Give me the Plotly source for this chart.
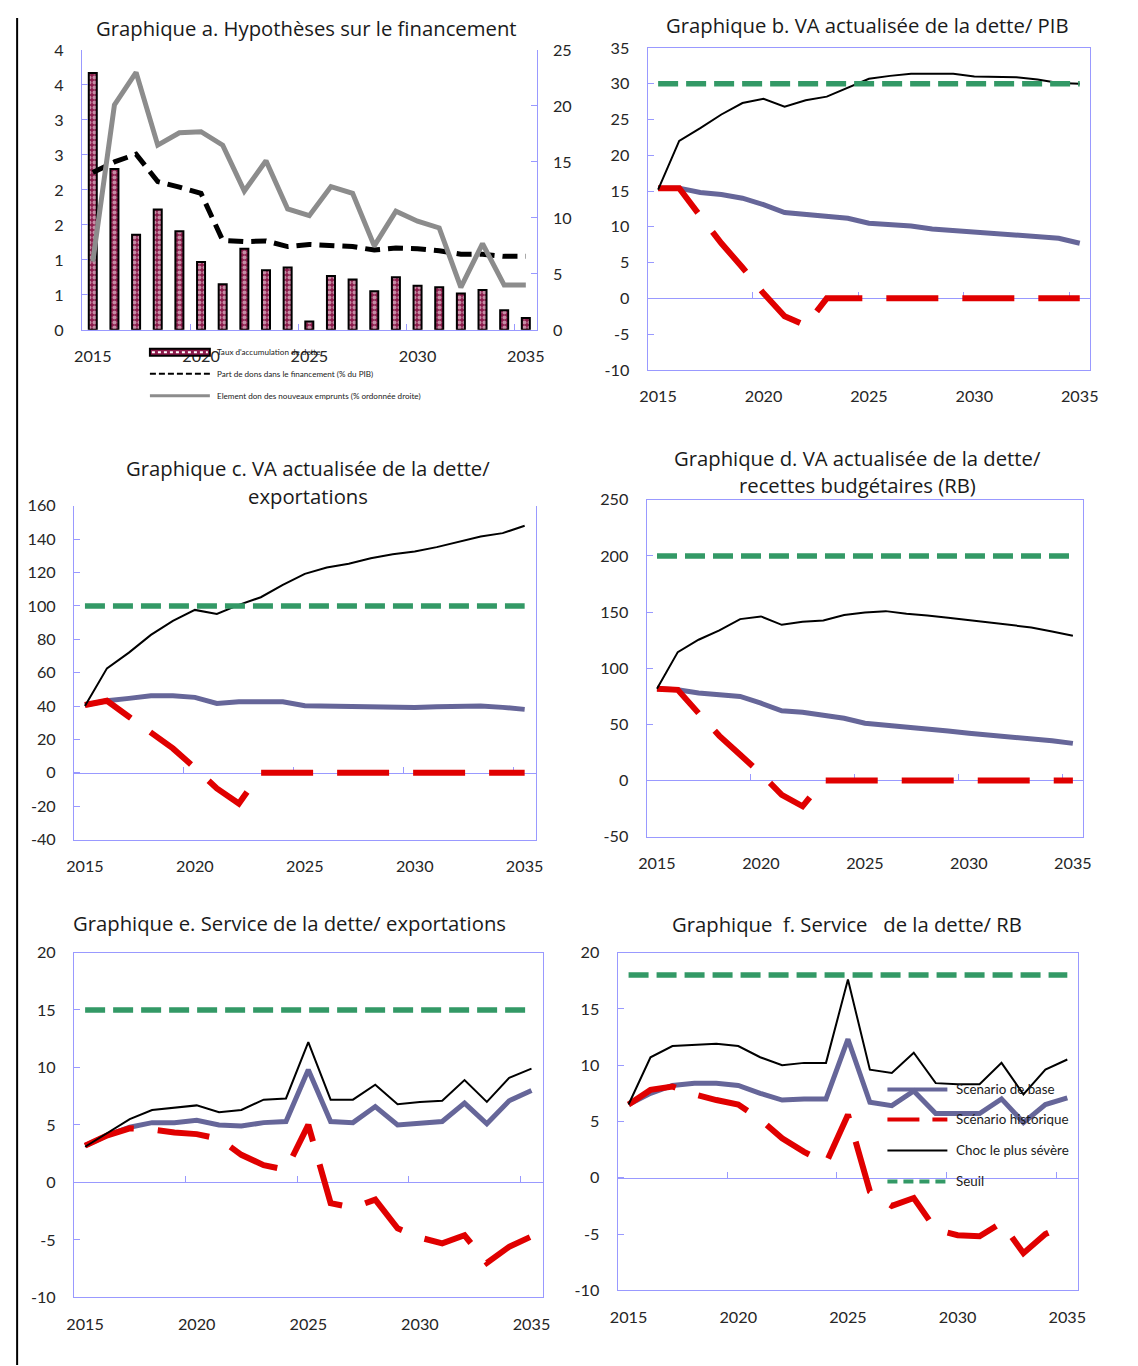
import plotly.graph_objects as go

W, H = 1138, 1366

# ---------------- DATA ----------------
years = [2015, 2016, 2017, 2018, 2019, 2020, 2021, 2022, 2023, 2024, 2025,
         2026, 2027, 2028, 2029, 2030, 2031, 2032, 2033, 2034, 2035]
x_ticks = [2015, 2020, 2025, 2030, 2035]
x_bounds = [2019.5, 2024.5, 2029.5, 2034.5]

# Graphique a
a_accum = [3.67, 2.30, 1.36, 1.72, 1.41, 0.97, 0.65, 1.16, 0.85, 0.89, 0.12,
           0.77, 0.72, 0.55, 0.75, 0.63, 0.61, 0.52, 0.57, 0.28, 0.17]
a_dons = [2.25, 2.40, 2.51, 2.12, 2.04, 1.95, 1.28, 1.26, 1.27, 1.19, 1.22,
          1.21, 1.19, 1.14, 1.17, 1.16, 1.13, 1.08, 1.08, 1.05, 1.05]
a_element = [6.1, 20.1, 23.0, 16.5, 17.6, 17.7, 16.5, 12.4, 15.1, 10.8, 10.2,
             12.8, 12.2, 7.5, 10.6, 9.7, 9.1, 3.8, 7.7, 4.0, 4.0]
a_left_ticks = [0, 0.5, 1, 1.5, 2, 2.5, 3, 3.5, 4]
a_left_text = ["0", "1", "1", "2", "2", "3", "3", "4", "4"]

# Graphique b
b_base = [15.4, 15.4, 14.8, 14.5, 14.0, 13.1, 12.0, 11.7, 11.4, 11.2, 10.5,
          10.3, 10.1, 9.7, 9.5, 9.3, 9.1, 8.9, 8.7, 8.4, 7.7]
b_hist = [15.4, 15.4, 11.5, 7.7, 4.3, 0.7, -2.5, -3.8, 0, 0, 0,
          0, 0, 0, 0, 0, 0, 0, 0, 0, 0]
b_choc = [15.2, 22.0, 23.8, 25.7, 27.3, 27.9, 26.8, 27.7, 28.2, 29.5, 30.7,
          31.1, 31.4, 31.4, 31.4, 31.0, 30.9, 30.9, 30.6, 30.1, 30.0]
b_seuil = [30, 30, 30, 30, 30, 30, 30, 30, 30, 30, 30,
           30, 30, 30, 30, 30, 30, 30, 30, 30, 30]

# Graphique c
c_base = [40.6, 43.2, 44.6, 46.2, 46.2, 45.2, 41.6, 42.6, 42.6, 42.6, 40.2,
          40.0, 40.0, 39.2, 39.2, 39.2, 39.6, 40.0, 40.0, 39.2, 38.0]
c_hist = [40.6, 43.2, 33.6, 24.2, 14.6, 3.0, -9.4, -18.4, 0, 0, 0,
          0, 0, 0, 0, 0, 0, 0, 0, 0, 0]
c_choc = [40.0, 62.6, 72.0, 82.6, 91.0, 97.6, 95.2, 100.6, 105.2, 112.6, 119.2,
          123.0, 125.2, 128.6, 131.0, 132.6, 135.2, 138.2, 141.6, 143.6, 148.0]
c_seuil = [100, 100, 100, 100, 100, 100, 100, 100, 100, 100, 100,
           100, 100, 100, 100, 100, 100, 100, 100, 100, 100]

# Graphique d
d_base = [81.6, 80.7, 77.8, 76.3, 74.8, 68.8, 62.0, 60.8, 57.8, 55.4, 50.9,
          49.4, 47.0, 45.5, 44.0, 42.0, 40.5, 39.0, 37.5, 35.4, 33.0]
d_hist = [81.6, 80.7, 59.9, 39.7, 22.8, 6.0, -12.8, -23.0, 0, 0, 0,
          0, 0, 0, 0, 0, 0, 0, 0, 0, 0]
d_choc = [81.6, 114.3, 125.3, 133.6, 143.7, 146.1, 138.6, 141.3, 142.5, 147.3, 149.6,
          150.8, 148.4, 147.0, 144.9, 142.8, 140.7, 138.6, 136.3, 132.7, 128.8]
d_seuil = [200, 200, 200, 200, 200, 200, 200, 200, 200, 200, 200,
           200, 200, 200, 200, 200, 200, 200, 200, 200, 200]

# Graphique e
e_base = [3.2, 4.1, 4.8, 5.2, 5.2, 5.4, 5.0, 4.9, 5.2, 5.3, 9.8,
          5.3, 5.2, 6.6, 5.0, 5.2, 5.3, 6.9, 5.1, 7.1, 8.0]
e_hist = [3.2, 4.1, 4.7, 4.6, 4.35, 4.2, 3.8, 2.4, 1.5, 1.1, 5.0,
          -1.8, -2.2, -1.5, -4.0, -4.8, -5.3, -4.6, -7.0, -5.6, -4.7]
e_choc = [3.1, 4.3, 5.5, 6.3, 6.5, 6.7, 6.1, 6.3, 7.2, 7.3, 12.2,
          7.2, 7.2, 8.5, 6.8, 7.0, 7.1, 8.9, 7.0, 9.1, 9.9]
e_seuil = [15, 15, 15, 15, 15, 15, 15, 15, 15, 15, 15,
           15, 15, 15, 15, 15, 15, 15, 15, 15, 15]

# Graphique f
f_base = [6.5, 7.5, 8.2, 8.4, 8.4, 8.2, 7.5, 6.9, 7.0, 7.0, 12.3,
          6.7, 6.4, 7.7, 5.7, 5.7, 5.7, 7.0, 4.9, 6.5, 7.1]
f_hist = [6.5, 7.8, 8.1, 7.4, 6.9, 6.5, 5.2, 3.5, 2.3, 1.3, 5.6,
          -1.2, -2.5, -1.8, -4.6, -5.1, -5.2, -4.0, -6.7, -5.0, -4.1]
f_choc = [6.5, 10.7, 11.7, 11.8, 11.9, 11.7, 10.7, 10.0, 10.2, 10.2, 17.6,
          9.6, 9.3, 11.1, 8.4, 8.3, 8.3, 10.2, 7.4, 9.6, 10.5]
f_seuil = [18, 18, 18, 18, 18, 18, 18, 18, 18, 18, 18,
           18, 18, 18, 18, 18, 18, 18, 18, 18, 18]

title_lines = {
    "a": ["Graphique a. Hypothèses sur le financement"],
    "b": ["Graphique b. VA actualisée de la dette/ PIB"],
    "c": ["Graphique c. VA actualisée de la dette/", "exportations"],
    "d": ["Graphique d. VA actualisée de la dette/", "recettes budgétaires (RB)"],
    "e": ["Graphique e. Service de la dette/ exportations"],
    "f": ["Graphique\u00a0 f. Service\u00a0\u00a0 de la dette/ RB"],
}
a_legend = ["Taux d'accumulation de dette",
            "Part de dons dans le financement (% du PIB)",
            "Element don des nouveaux emprunts (% ordonnée droite)"]
f_legend = ["Scenario de base", "Scénario historique",
            "Choc le plus sévère", "Seuil"]

# ---------------- STYLE / PLACEMENT ----------------
# the page is photographed slightly offset and scaled; compensate
S = 0.9866
OX, OY = 16.0, 18.0


def sz(v):
    return v / S


def px_x(x):
    return ((x - OX) / S) / W


def px_y(y):
    return 1 - ((y - OY) / S) / H


def yticks(lo, hi, step):
    vals = []
    v = lo
    while v <= hi + 1e-9:
        vals.append(v)
        v += step
    return vals, [str(int(v)) for v in vals]


LB = "#9999FF"
FONT = "Lato, 'Open Sans', sans-serif"
TFONT = "'Open Sans', sans-serif"
TF = dict(family=FONT, size=sz(16), color="#262626")
XR = [2014.5, 2035.5]
XSO = 12
YSO = 14
BLUE = "#666699"
RED = "#E00000"
GREEN = "#339966"
GRAY = "#8C8C8C"
MAROON = "#8B1A4A"

fig = go.Figure()
layout = dict(width=W, height=H, margin=dict(l=0, r=0, t=0, b=0),
              paper_bgcolor="white", plot_bgcolor="white", showlegend=False)

# ---------------- Panel a ----------------
l, r, t, b = 82, 537, 50, 330
layout["xaxis"] = dict(domain=[px_x(l), px_x(r)], range=XR, anchor="y",
                       tickmode="array", tickvals=x_ticks, ticks="",
                       showline=True, linecolor=LB, showgrid=False, zeroline=False,
                       tickfont=TF, ticklabelstandoff=XSO,
                       minor=dict(tickmode="array", tickvals=x_bounds, ticks="inside",
                                  ticklen=6, tickcolor=LB, showgrid=False))
layout["yaxis"] = dict(domain=[px_y(b), px_y(t)], range=[0, 4], anchor="x",
                       tickmode="array", tickvals=a_left_ticks, ticktext=a_left_text,
                       ticks="inside", ticklen=6, tickcolor=LB, showline=True,
                       linecolor=LB, showgrid=False, zeroline=False, tickfont=TF,
                       ticklabelstandoff=YSO)
layout["yaxis2"] = dict(overlaying="y", side="right", range=[0, 25], dtick=5,
                        anchor="x", ticks="inside", ticklen=6, tickcolor=LB,
                        showline=True, linecolor=LB, showgrid=False, zeroline=False,
                        tickfont=TF, ticklabelstandoff=12)

fig.add_trace(go.Bar(x=years, y=a_accum, width=0.37, xaxis="x", yaxis="y",
                     marker=dict(color=MAROON, line=dict(color="black", width=2),
                                 pattern=dict(shape=".", fgcolor="white",
                                              bgcolor=MAROON, size=5, solidity=0.5))))
fig.add_trace(go.Scatter(x=years, y=a_dons, mode="lines", xaxis="x", yaxis="y",
                         line=dict(color="black", width=5, dash="15px,8px")))
fig.add_trace(go.Scatter(x=years, y=a_element, mode="lines", xaxis="x", yaxis="y2",
                         line=dict(color=GRAY, width=5)))


# ---------------- Panels b-f ----------------
def panel(xn, yn, zn, box, yrange, dtick, base, hist, choc, seuil, top_line=True):
    l, r, t, b = box
    xd = [px_x(l), px_x(r)]
    yd = [px_y(b), px_y(t)]
    tv, tt = yticks(yrange[0], yrange[1], dtick)
    layout[f"xaxis{xn}"] = dict(domain=xd, range=XR, anchor=f"y{yn}",
                                tickmode="array", tickvals=x_ticks, ticks="",
                                showline=True, linecolor=LB, mirror=top_line,
                                showgrid=False, zeroline=False, tickfont=TF,
                                ticklabelstandoff=XSO)
    layout[f"yaxis{yn}"] = dict(domain=yd, range=yrange, tickmode="array",
                                tickvals=tv, ticktext=tt,
                                anchor=f"x{xn}", ticks="inside", ticklen=6,
                                tickcolor=LB, showline=True, linecolor=LB,
                                mirror=True, showgrid=False, zeroline=False,
                                tickfont=TF, ticklabelstandoff=YSO)
    zpos = yd[0] + (0 - yrange[0]) / (yrange[1] - yrange[0]) * (yd[1] - yd[0])
    layout[f"xaxis{zn}"] = dict(overlaying=f"x{xn}", anchor="free", position=zpos,
                                range=XR, tickmode="array", tickvals=x_bounds,
                                ticks="inside", ticklen=6, tickcolor=LB,
                                showline=True, linecolor=LB, showticklabels=False,
                                showgrid=False, zeroline=False, layer="below traces")
    fig.add_trace(go.Scatter(x=[], y=[], xaxis=f"x{zn}", yaxis=f"y{yn}",
                             hoverinfo="skip"))
    ax = dict(xaxis=f"x{xn}", yaxis=f"y{yn}", mode="lines")
    fig.add_trace(go.Scatter(x=years, y=base, line=dict(color=BLUE, width=5), **ax))
    fig.add_trace(go.Scatter(x=years, y=hist,
                             line=dict(color=RED, width=6, dash="52px,24px"), **ax))
    fig.add_trace(go.Scatter(x=years, y=choc, line=dict(color="black", width=2), **ax))
    fig.add_trace(go.Scatter(x=years, y=seuil,
                             line=dict(color=GREEN, width=5.5, dash="20px,8px"), **ax))


panel(2, 3, 3, (648, 1091, 48, 370), [-10, 35], 5, b_base, b_hist, b_choc, b_seuil)
panel(4, 4, 5, (74, 536, 506, 840), [-40, 160], 20, c_base, c_hist, c_choc, c_seuil,
      top_line=False)
panel(6, 5, 7, (647, 1084, 500, 837), [-50, 250], 50, d_base, d_hist, d_choc, d_seuil)
panel(8, 6, 9, (74, 543, 953, 1298), [-10, 20], 5, e_base, e_hist, e_choc, e_seuil)
panel(10, 7, 11, (618, 1079, 953, 1291), [-10, 20], 5, f_base, f_hist, f_choc, f_seuil)

# ---------------- Titles ----------------
annotations = []
title_pos = {"a": (307, [28]), "b": (868, [25]), "c": (308, [468, 496]),
             "d": (858, [458, 485]), "e": (290, [923]), "f": (848, [924])}
for k, (cx, ys) in title_pos.items():
    for txt, cy in zip(title_lines[k], ys):
        annotations.append(dict(text=txt, x=px_x(cx), y=px_y(cy), xref="paper",
                                yref="paper", xanchor="center", yanchor="middle",
                                showarrow=False, align="center",
                                font=dict(family=TFONT, size=sz(20), color="#1a1a1a")))

# ---------------- Legends (drawn) ----------------
shapes = []
# left edge of the figure frame
shapes.append(dict(type="line", xref="paper", yref="paper", x0=0.001, x1=0.001,
                   y0=1, y1=0, line=dict(color="black", width=2)))

# legend of panel a
la_rows = [352, 374, 396]
shapes.append(dict(type="rect", xref="paper", yref="paper", x0=px_x(150), x1=px_x(210),
                   y0=px_y(356), y1=px_y(349), fillcolor=MAROON,
                   line=dict(color="black", width=2)))
shapes.append(dict(type="line", xref="paper", yref="paper", x0=px_x(152), x1=px_x(208),
                   y0=px_y(352.5), y1=px_y(352.5),
                   line=dict(color="white", width=2, dash="3px,3px")))
shapes.append(dict(type="line", xref="paper", yref="paper", x0=px_x(150), x1=px_x(210),
                   y0=px_y(374), y1=px_y(374),
                   line=dict(color="black", width=2, dash="6px,3px")))
shapes.append(dict(type="line", xref="paper", yref="paper", x0=px_x(150), x1=px_x(210),
                   y0=px_y(396), y1=px_y(396), line=dict(color=GRAY, width=3)))
for txt, ry in zip(a_legend, la_rows):
    annotations.append(dict(text=txt, x=px_x(215), y=px_y(ry), xref="paper",
                            yref="paper", xanchor="left", yanchor="middle",
                            showarrow=False,
                            font=dict(family=FONT, size=sz(8), color="#1a1a1a")))

# legend of panel f
lf_rows = [1090, 1120, 1151, 1182]
lf_styles = [dict(color=BLUE, width=4), dict(color=RED, width=4, dash="32px,13px"),
             dict(color="black", width=2), dict(color=GREEN, width=4, dash="10px,6px")]
for ry, st in zip(lf_rows, lf_styles):
    shapes.append(dict(type="line", xref="paper", yref="paper", x0=px_x(888),
                       x1=px_x(948), y0=px_y(ry), y1=px_y(ry), line=st))
for txt, ry in zip(f_legend, lf_rows):
    annotations.append(dict(text=txt, x=px_x(955), y=px_y(ry), xref="paper",
                            yref="paper", xanchor="left", yanchor="middle",
                            showarrow=False,
                            font=dict(family=FONT, size=sz(13.2), color="#1a1a1a")))

layout["annotations"] = annotations
layout["shapes"] = shapes
fig.update_layout(**layout)
fig.update_traces(showlegend=False)

fig.write_html("out.html")
